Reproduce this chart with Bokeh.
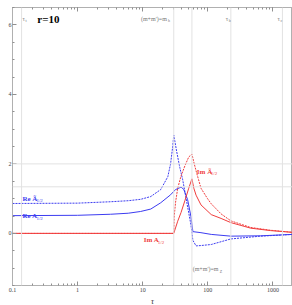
from bokeh.plotting import figure
from bokeh.models import (Range1d, LogAxis, Span, SingleIntervalTicker,
                          LogTicker, Label, Title, CustomJSTickFormatter)
from bokeh.embed import file_html
from bokeh.resources import INLINE

# ---- data ----
tau_re_tilde = [0.1, 1, 3.2, 6, 9.3, 13.3, 18.9, 24.3, 26.8, 28.9, 30, 33.3, 37.1, 41.2,
                47.5, 55, 59, 66, 78.5, 113, 226, 650, 2000]
re_tilde = [0.86, 0.87, 0.91, 0.94, 0.98, 1.06, 1.26, 1.63, 2.0, 2.5, 2.83, 2.35, 1.9, 1.54,
            0.9, 0.25, -0.2, -0.36, -0.35, -0.32, -0.16, -0.08, -0.03]

tau_re = [0.1, 1, 3.2, 6, 9.3, 13.3, 18.9, 26.8, 31.9, 38.8, 42.6, 49, 55, 59,
          78.5, 113, 226, 650, 2000]
re_a = [0.51, 0.52, 0.55, 0.58, 0.63, 0.7, 0.88, 1.11, 1.26, 1.33, 1.27, 0.97, 0.49, 0.05,
        0.02, -0.03, -0.08, -0.07, -0.03]

tau_im = [0.1, 30, 34.5, 38.8, 44.6, 51, 57, 61, 66, 78.5, 113, 160, 226, 456, 920, 2000]
im_a = [0.0, 0.0, 0.35, 0.6, 0.95, 1.3, 1.57, 1.3, 1.1, 0.82, 0.54, 0.43, 0.31, 0.15, 0.08, 0.03]

tau_im_tilde = [0.1, 30, 30.5, 32, 34.5, 38.8, 44.6, 51, 57, 61, 66, 72, 78.5, 99, 113,
                160, 226, 456, 920, 2000]
im_tilde = [0.0, 0.0, 0.5, 0.9, 1.3, 1.65, 1.95, 2.2, 2.28, 2.05, 1.8, 1.55, 1.3, 1.0, 0.85,
            0.56, 0.36, 0.17, 0.09, 0.03]

grid_tau = [0.138, 30, 57, 226, 1400]
grid_y = [2.0, 1.34]

BLUE = "#3c3cf0"
RED = "#f03c3c"
GRID = "#e2e2e2"
FONT = "Liberation Serif"

p = figure(width=292, height=305, x_axis_type="log",
           x_range=Range1d(0.1, 2000), y_range=Range1d(-1.5, 6.5),
           output_backend="svg", toolbar_location=None,
           min_border_left=12, min_border_right=0, min_border_top=7, min_border_bottom=0)
p.background_fill_color = "white"
p.outline_line_color = "#b0b0b0"
p.xgrid.visible = False
p.ygrid.visible = False

for t in grid_tau:
    p.add_layout(Span(location=t, dimension="height", line_color=GRID, line_width=1))
for yv in grid_y:
    p.add_layout(Span(location=yv, dimension="width", line_color=GRID, line_width=1))

# curves
p.line(tau_re_tilde, re_tilde, line_color=BLUE, line_width=1, line_dash="2 1")
p.line(tau_re, re_a, line_color=BLUE, line_width=1)
p.line(tau_im_tilde, im_tilde, line_color=RED, line_width=1, line_dash="2 1")
p.line(tau_im, im_a, line_color=RED, line_width=1)

# axes styling
def style_axis(ax):
    ax.axis_line_color = "#b0b0b0"
    ax.major_tick_line_color = "#909090"
    ax.minor_tick_line_color = "#909090"
    ax.major_tick_in = 4
    ax.major_tick_out = 0
    ax.minor_tick_in = 2
    ax.minor_tick_out = 0
    ax.major_label_text_font = FONT
    ax.major_label_text_font_size = "6px"
    ax.major_label_text_color = "#444444"

xa = p.xaxis[0]
style_axis(xa)
xa.ticker = LogTicker(num_minor_ticks=10)
xa.formatter = CustomJSTickFormatter(code="return tick < 1 ? tick.toFixed(1) : tick.toFixed(0)")
xa.major_label_standoff = 2

ya = p.yaxis[0]
style_axis(ya)
ya.ticker = SingleIntervalTicker(interval=2, num_minor_ticks=4)
ya.major_label_standoff = 1

top = LogAxis(ticker=LogTicker(num_minor_ticks=10))
style_axis(top)
top.formatter = CustomJSTickFormatter(code="return ''")
top.major_label_text_font_size = "1px"
top.major_label_standoff = 0
p.add_layout(top, "above")

# x axis title
p.add_layout(Title(text="τ", align="center", text_font=FONT, text_font_style="italic",
                   text_font_size="8px", text_color="#333333", standoff=0, offset=0), "below")

# labels
def lab(x, y, text, sub, color, size=7, subsize=5, bold=True, align="left", subdx=13):
    p.add_layout(Label(x=x, y=y, text=text, text_color=color, text_font=FONT,
                       text_font_size=f"{size}px", text_font_style="bold" if bold else "normal",
                       text_baseline="middle", text_align=align))
    if sub:
        p.add_layout(Label(x=x, y=y, text=sub, x_offset=subdx, y_offset=-2,
                           text_color=color, text_font=FONT, text_font_size=f"{subsize}px",
                           text_font_style="normal", text_baseline="middle"))

lab(0.142, 1.0, "Re Ã", "1/2", BLUE, subdx=14)
lab(0.142, 0.49, "Re A", "1/2", BLUE, subdx=14)
lab(67.9, 1.77, "Im Ã", "1/2", RED, subdx=14)
lab(10.4, -0.2, "Im A", "1/2", RED, subdx=14)

p.add_layout(Label(x=0.24, y=6.17, text="r=10", text_font=FONT, text_font_size="11px",
                   text_font_style="bold", text_color="black", text_baseline="middle"))

GRAYT = "#777777"
lab(0.142, 6.17, "τ", "t", GRAYT, size=6, subsize=4, bold=False, subdx=3)
lab(189, 6.17, "τ", "b", GRAYT, size=6, subsize=4, bold=False, subdx=3)
lab(1180, 6.17, "τ", "c", GRAYT, size=6, subsize=4, bold=False, subdx=3)
lab(9.4, 6.17, "(m+m')=m", "h", GRAYT, size=6, subsize=4, bold=False, subdx=27)
lab(58.6, -1.03, "(m+m')=m", "Z", GRAYT, size=6, subsize=4, bold=False, subdx=27)

open("out.html", "w").write(file_html(p, INLINE))
